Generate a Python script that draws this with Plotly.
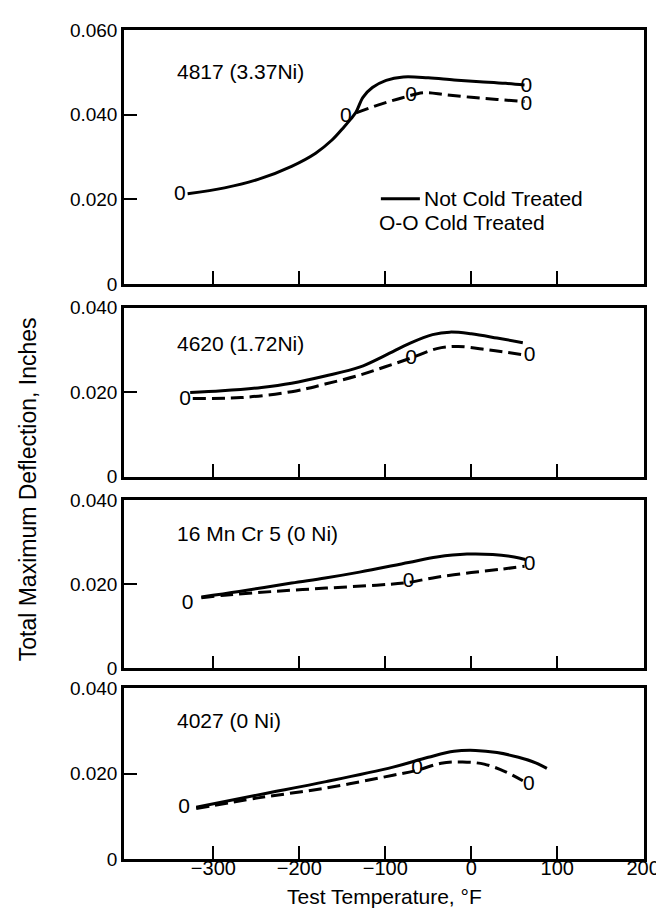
import plotly.graph_objects as go

# ---------------- data ----------------
panel_labels = ["4817 (3.37Ni)", "4620 (1.72Ni)", "16 Mn Cr 5 (0 Ni)", "4027 (0 Ni)"]
y_max = [0.060, 0.040, 0.040, 0.040]
x_tick_vals = [-300, -200, -100, 0, 100, 200]
x_tick_text = ["\u2212300", "\u2212200", "\u2212100", "0", "100", "200"]

# 4817 (3.37Ni)
nct_x_1 = [-330, -287, -248, -209, -181, -162, -148, -140, -134, -126, -115, -99, -79, -50, -20, 10, 40, 62]
nct_y_1 = [0.0213, 0.0227, 0.0247, 0.0278, 0.0309, 0.0340, 0.0371, 0.0390, 0.0406, 0.0441, 0.0464, 0.0481,
           0.0489, 0.0487, 0.0482, 0.0478, 0.0474, 0.0470]
ct_x_1 = [-134, -105, -80, -55, -30, 0, 30, 62]
ct_y_1 = [0.0404, 0.0425, 0.0440, 0.0452, 0.0447, 0.0441, 0.0436, 0.0431]
pts_x_1 = [-339, -146, -70, 64, 64]
pts_y_1 = [0.0210, 0.0395, 0.0444, 0.0466, 0.0423]

# 4620 (1.72Ni)
nct_x_2 = [-327, -290, -244, -209, -170, -130, -100, -71, -45, -25, 0, 30, 60]
nct_y_2 = [0.0199, 0.0203, 0.0211, 0.0221, 0.0238, 0.0259, 0.0287, 0.0316, 0.0336, 0.0342, 0.0338, 0.0328, 0.0317]
ct_x_2 = [-324, -268, -209, -170, -130, -100, -71, -40, -15, 20, 62]
ct_y_2 = [0.0185, 0.0187, 0.0201, 0.0219, 0.0240, 0.0260, 0.0280, 0.0303, 0.0308, 0.0300, 0.0288]
pts_x_2 = [-333, -70, 68]
pts_y_2 = [0.0181, 0.0280, 0.0287]

# 16 Mn Cr 5 (0 Ni)
nct_x_3 = [-314, -270, -209, -170, -130, -73, -40, -5, 25, 50, 63]
nct_y_3 = [0.0170, 0.0183, 0.0203, 0.0215, 0.0229, 0.0252, 0.0265, 0.0272, 0.0271, 0.0265, 0.0259]
ct_x_3 = [-314, -287, -230, -169, -110, -75, -40, 0, 35, 62]
ct_y_3 = [0.0168, 0.0174, 0.0183, 0.0191, 0.0198, 0.0204, 0.0217, 0.0228, 0.0236, 0.0243]
pts_x_3 = [-330, -73, 68]
pts_y_3 = [0.0153, 0.0205, 0.0247]

# 4027 (0 Ni)
nct_x_4 = [-320, -248, -169, -91, -50, -20, 5, 30, 55, 75, 88]
nct_y_4 = [0.0121, 0.0150, 0.0181, 0.0215, 0.0238, 0.0252, 0.0254, 0.0249, 0.0238, 0.0225, 0.0212]
ct_x_4 = [-320, -248, -169, -91, -64, -35, -10, 15, 40, 60]
ct_y_4 = [0.0118, 0.0143, 0.0166, 0.0196, 0.0207, 0.0224, 0.0227, 0.0222, 0.0204, 0.0183]
pts_x_4 = [-334, -63, 67]
pts_y_4 = [0.0120, 0.0210, 0.0173]

nct_x = [nct_x_1, nct_x_2, nct_x_3, nct_x_4]
nct_y = [nct_y_1, nct_y_2, nct_y_3, nct_y_4]
ct_x = [ct_x_1, ct_x_2, ct_x_3, ct_x_4]
ct_y = [ct_y_1, ct_y_2, ct_y_3, ct_y_4]
pts_x = [pts_x_1, pts_x_2, pts_x_3, pts_x_4]
pts_y = [pts_y_1, pts_y_2, pts_y_3, pts_y_4]

# ---------------- figure ----------------
FONT = "Liberation Sans, Arial, Helvetica, sans-serif"
domains = [[0.6937, 1.0], [0.4613, 0.6651], [0.2300, 0.4327], [0.0, 0.2062]]

fig = go.Figure()
for i in range(4):
    xa = "x" if i == 0 else f"x{i+1}"
    ya = "y" if i == 0 else f"y{i+1}"
    fig.add_trace(go.Scatter(x=nct_x[i], y=nct_y[i], mode="lines", xaxis=xa, yaxis=ya,
                             line=dict(color="black", width=3, shape="spline", smoothing=1.0),
                             showlegend=False, name="Not Cold Treated"))
    fig.add_trace(go.Scatter(x=ct_x[i], y=ct_y[i], mode="lines", xaxis=xa, yaxis=ya,
                             line=dict(color="black", width=3, dash="13px,6px", shape="spline", smoothing=1.0),
                             showlegend=False, name="Cold Treated"))
    fig.add_trace(go.Scatter(x=pts_x[i], y=pts_y[i], mode="text", xaxis=xa, yaxis=ya,
                             text=["0"] * len(pts_x[i]), textposition="middle center",
                             textfont=dict(family=FONT, size=21, color="black"),
                             showlegend=False, name="points"))

layout = dict(
    width=664, height=910,
    margin=dict(l=116, r=28, t=12, b=59),
    paper_bgcolor="white", plot_bgcolor="white",
    font=dict(family=FONT, size=20, color="black"),
    showlegend=False,
)
axis_common = dict(showline=True, linewidth=2.5, linecolor="black", mirror=True,
                   showgrid=False, zeroline=False, ticks="inside", ticklen=13,
                   tickwidth=2, tickcolor="black")
for i in range(4):
    xk = "xaxis" if i == 0 else f"xaxis{i+1}"
    yk = "yaxis" if i == 0 else f"yaxis{i+1}"
    ya = "y" if i == 0 else f"y{i+1}"
    xa = "x" if i == 0 else f"x{i+1}"
    layout[xk] = dict(axis_common, domain=[0, 1], range=[-404, 201], anchor=ya,
                      tickvals=x_tick_vals, ticktext=x_tick_text,
                      tickfont=dict(family=FONT, size=20, color="black"),
                      ticklabelstandoff=-11,
                      showticklabels=(i == 3))
    if y_max[i] > 0.05:
        yv = [0, 0.020, 0.040, 0.060]
        yt = ["0", "0.020", "0.040", "0.060"]
    else:
        yv = [0, 0.020, 0.040]
        yt = ["0", "0.020", "0.040"]
    layout[yk] = dict(axis_common, domain=domains[i], range=[0, y_max[i]], anchor=xa,
                      tickvals=yv, ticktext=yt,
                      tickfont=dict(family=FONT, size=19, color="black"))
fig.update_layout(**layout)

annotations = []
label_y = [0.837, 0.789, 0.80, 0.81]
for i in range(4):
    xr = "x domain" if i == 0 else f"x{i+1} domain"
    yr = "y domain" if i == 0 else f"y{i+1} domain"
    annotations.append(dict(text=panel_labels[i], xref=xr, yref=yr, x=0.0975, y=label_y[i],
                            xanchor="left", yanchor="middle", showarrow=False,
                            font=dict(family=FONT, size=21, color="black")))

# legend in first panel
annotations.append(dict(text="Not Cold Treated", xref="x domain", yref="y domain", x=0.573, y=0.335,
                        xanchor="left", yanchor="middle", showarrow=False,
                        font=dict(family=FONT, size=21, color="black")))
annotations.append(dict(text="O-O Cold Treated", xref="x domain", yref="y domain", x=0.4865, y=0.241,
                        xanchor="left", yanchor="middle", showarrow=False,
                        font=dict(family=FONT, size=21, color="black")))
# axis titles
annotations.append(dict(text="Test Temperature, \u00b0F", xref="paper", yref="paper", x=0.5, y=-0.0605,
                        xanchor="center", yanchor="bottom", showarrow=False, borderpad=0,
                        font=dict(family=FONT, size=21, color="black")))
annotations.append(dict(text="Total Maximum Deflection, Inches", xref="paper", yref="paper",
                        x=-0.1846, y=0.446, xanchor="center", yanchor="middle", textangle=-90,
                        showarrow=False, font=dict(family=FONT, size=23, color="black")))
fig.update_layout(annotations=annotations)

fig.add_shape(type="line", xref="x domain", yref="y domain", x0=0.494, x1=0.569, y0=0.335, y1=0.335,
              line=dict(color="black", width=3))

fig.write_html("out.html")
